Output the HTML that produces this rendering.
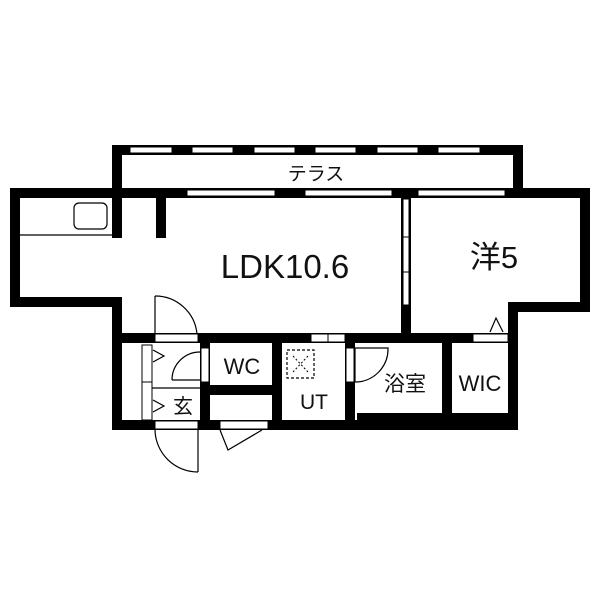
<!DOCTYPE html>
<html><head><meta charset="utf-8"><style>
html,body{margin:0;padding:0;background:#fff;}
svg{display:block}
text{font-family:"Liberation Sans","Noto Sans CJK JP",sans-serif;fill:#111}
</style></head><body>
<svg width="600" height="600" viewBox="0 0 600 600" xmlns="http://www.w3.org/2000/svg">
<rect width="600" height="600" fill="#fff"/>
<g fill="#000">
<rect x="112" y="145" width="411" height="10"/>
<rect x="112" y="145" width="10" height="93"/>
<rect x="513" y="145" width="10" height="53"/>
<rect x="10" y="188" width="580" height="10"/>
<rect x="10" y="188" width="10" height="119"/>
<rect x="10" y="297" width="112" height="10"/>
<rect x="156" y="198" width="10" height="40"/>
<rect x="580" y="188" width="10" height="124"/>
<rect x="510" y="302" width="80" height="10"/>
<rect x="508" y="302" width="10" height="128"/>
<rect x="401" y="188" width="10" height="155"/>
<rect x="112" y="297" width="10" height="133"/>
<rect x="112" y="333" width="406" height="10"/>
<rect x="112" y="420" width="406" height="10"/>
<rect x="357" y="413" width="151" height="10"/>
<rect x="200" y="343" width="10" height="77"/>
<rect x="210" y="385" width="72" height="10"/>
<rect x="272" y="343" width="10" height="77"/>
<rect x="345" y="343" width="10" height="77"/>
<rect x="442" y="343" width="10" height="77"/>
</g>
<g fill="#fff" stroke="#000" stroke-width="1">
<rect x="130" y="147" width="42" height="6"/>
<rect x="192" y="147" width="41" height="6"/>
<rect x="254" y="147" width="41" height="6"/>
<rect x="315" y="147" width="41" height="6"/>
<rect x="377" y="147" width="41" height="6"/>
<rect x="438" y="147" width="42" height="6"/>
<rect x="187" y="190" width="88" height="6"/>
<rect x="305" y="190" width="87" height="6"/>
<rect x="418" y="190" width="87" height="6"/>
<rect x="403" y="199" width="6" height="38"/>
<rect x="403" y="237" width="6" height="35"/>
<rect x="403" y="272" width="6" height="33"/>
<rect x="155" y="334" width="43" height="8"/>
<rect x="311" y="334" width="17" height="8"/>
<rect x="328" y="334" width="17" height="8"/>
<rect x="473" y="334" width="35" height="8"/>
<rect x="155" y="421" width="43" height="8"/>
<rect x="220" y="421" width="48" height="8"/>
<rect x="201" y="348" width="8" height="34"/>
<rect x="346" y="348" width="8" height="34"/>
<rect x="142" y="345" width="10" height="37"/>
<rect x="142" y="382" width="10" height="38"/>
</g>
<g fill="none" stroke="#000" stroke-width="1.2">
<line x1="20" y1="235" x2="112" y2="235"/>
<rect x="74" y="203" width="33" height="26" rx="5"/>
<line x1="155" y1="296" x2="155" y2="334"/>
<path d="M155 296 A42 42 0 0 1 197 334"/>
<line x1="198" y1="430" x2="198" y2="472"/>
<path d="M155 430 A43 43 0 0 0 198 472"/>
<line x1="172" y1="380" x2="200" y2="380"/>
<path d="M172 380 A28 28 0 0 1 200 352"/>
<path d="M220 430 L228 450 L262 430"/>
<line x1="355" y1="382" x2="355" y2="348"/>
<path d="M355 348 L388 348 A33 33 0 0 1 355 382"/>
<line x1="152" y1="388" x2="200" y2="388"/>
<path d="M153 350 L164 356 L153 362"/>
<path d="M153 400 L164 406 L153 412"/>
<path d="M490 332 L496 318 L503 332"/>
<rect x="287" y="350" width="27" height="28" stroke-dasharray="3,2"/>
<path d="M293 356 L308 372 M308 356 L293 372" stroke-dasharray="2,2" stroke-width="1"/>
</g>
<text x="316" y="180" font-size="19" text-anchor="middle">テラス</text>
<text x="285" y="278" font-size="33" text-anchor="middle">LDK10.6</text>
<text x="494" y="268" font-size="31" text-anchor="middle">洋5</text>
<text x="242" y="374" font-size="22" text-anchor="middle">WC</text>
<text x="314" y="409" font-size="21" text-anchor="middle">UT</text>
<text x="405" y="391" font-size="21" text-anchor="middle">浴室</text>
<text x="480" y="391" font-size="22" text-anchor="middle">WIC</text>
<text x="183" y="413" font-size="20" text-anchor="middle">玄</text>
</svg>
</body></html>
